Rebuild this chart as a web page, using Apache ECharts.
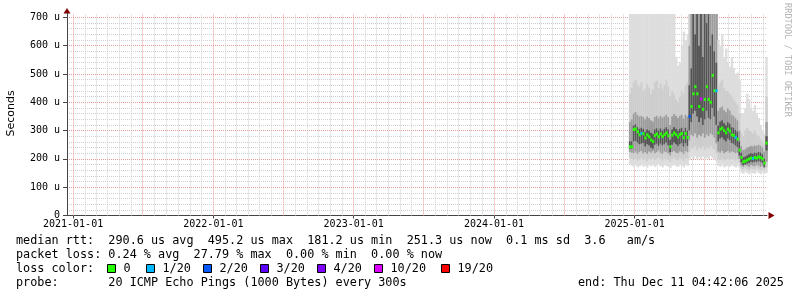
<!DOCTYPE html>
<html><head><meta charset="utf-8">
<script src="https://cdn.jsdelivr.net/npm/echarts@6/dist/echarts.min.js"></script>
<style>html,body{margin:0;padding:0;background:#fff}#c{width:797px;height:297px}</style>
</head><body><div id="c"></div>
<script>
// ---- data ----
const dates = ['2024-12-17','2024-12-22','2024-12-27','2025-01-01','2025-01-06','2025-01-11','2025-01-16','2025-01-21','2025-01-26','2025-01-31','2025-02-05','2025-02-10','2025-02-15','2025-02-20','2025-02-25','2025-03-02','2025-03-07','2025-03-12','2025-03-17','2025-03-22','2025-03-27','2025-04-01','2025-04-06','2025-04-11','2025-04-16','2025-04-21','2025-04-26','2025-05-01','2025-05-06','2025-05-11','2025-05-16','2025-05-21','2025-05-26','2025-05-31','2025-06-05','2025-06-10','2025-06-15','2025-06-20','2025-06-25','2025-06-30','2025-07-05','2025-07-10','2025-07-15','2025-07-20','2025-07-25','2025-07-30','2025-08-04','2025-08-09','2025-08-14','2025-08-19','2025-08-24','2025-08-29','2025-09-03','2025-09-08','2025-09-13','2025-09-18','2025-09-23','2025-09-28','2025-10-03','2025-10-08','2025-10-13','2025-10-18','2025-10-23','2025-10-28','2025-11-02','2025-11-07','2025-11-12','2025-11-17','2025-11-22','2025-11-27','2025-12-02','2025-12-07'];

// median RTT (microseconds)
const median = [243,243,304,306,296,285,290,289,274,285,278,267,261,283,288,278,288,279,286,292,282,243,284,292,286,278,286,290,275,290,276,
  350,385,430,455,430,385,412,375,410,455,410,400,495,441,441,
  292,305,309,300,292,305,298,285,283,276,270,231,
  205,190,192,196,200,203,201,205,203,207,205,200,185,
  256];
// lost pings out of 20
const loss = [0,0,0,0,0,0,1,0,0,0,0,0,0,0,0,0,0,0,0,0,0,0,0,0,0,0,0,0,0,0,0,
  2,0,0,0,0,0,10,0,0,0,0,0,0,0,1,
  0,0,0,0,0,0,0,0,0,1,0,0,
  0,0,0,0,0,0,1,0,0,0,0,0,0,
  0];
// smoke quantiles (microseconds)
const smokeMin = [182,176,172,178,170,175,180,172,176,170,178,174,180,172,176,182,174,170,178,175,172,168,176,180,174,172,178,176,170,180,176,
  195,205,200,210,198,206,200,208,196,204,200,210,202,198,190,
  176,172,178,170,174,176,172,178,174,170,176,170,
  152,148,155,150,146,154,150,148,156,150,146,152,148,
  150];
const q10 = [205,200,196,200,194,198,204,196,200,192,200,198,204,196,200,206,198,194,202,198,196,190,200,204,198,196,202,200,194,204,200,
  225,240,235,245,230,240,236,244,232,240,236,246,238,232,220,
  198,196,200,194,198,200,196,200,198,194,198,186,
  165,162,168,164,160,166,164,162,168,164,160,166,160,
  170];
const q25 = [225,222,220,226,218,224,228,220,224,218,226,222,228,220,224,230,222,218,226,224,220,212,224,228,222,220,226,224,218,228,224,
  265,285,280,290,275,285,280,290,275,286,280,290,285,275,255,
  226,222,228,220,224,228,222,226,224,220,222,200,
  176,172,178,176,172,178,176,174,180,176,172,176,168,
  190];
const q40 = [236,236,262,264,258,252,254,256,244,252,248,240,236,250,254,246,254,248,252,258,248,224,250,258,252,246,252,256,244,256,246,
  300,330,360,370,350,330,345,320,340,370,345,340,380,350,320,
  262,272,276,268,262,272,266,256,254,248,242,212,
  188,178,180,184,186,190,188,190,190,192,190,186,172,
  230];
const q60 = [262,262,318,322,312,306,310,306,296,304,300,292,288,304,308,300,308,300,306,312,304,268,304,312,306,300,306,310,298,310,300,
  460,520,712,640,712,600,712,560,712,680,712,600,640,580,540,
  318,332,336,326,318,330,324,312,310,302,296,262,
  222,206,208,212,216,220,218,222,220,224,222,216,200,
  280];
const q75 = [330,340,360,366,356,350,352,348,340,350,344,336,332,348,352,344,352,346,350,356,348,320,350,358,352,344,352,356,342,356,350,
  600,712,712,712,712,712,712,712,712,712,712,712,712,712,712,
  370,380,385,372,365,378,370,356,352,344,336,300,
  245,232,234,240,242,246,244,248,246,250,246,240,226,
  330];
const q90 = [430,450,470,480,462,455,470,440,448,465,452,430,445,470,476,450,466,448,460,478,455,420,440,430,410,400,420,440,430,460,470,
  712,712,712,712,712,712,712,712,712,712,712,712,712,712,712,
  460,470,480,450,440,440,430,420,410,400,390,360,
  290,280,300,310,300,296,290,300,285,280,270,260,250,
  420];
const smokeMax = [712,712,712,712,712,712,712,712,712,712,712,712,712,712,712,712,712,712,712,712,712,712,712,712,560,530,540,600,650,620,640,
  712,712,712,712,712,712,712,712,712,712,712,712,712,712,712,
  620,600,640,560,590,540,525,560,520,500,505,480,
  360,362,380,430,410,380,370,390,360,345,320,300,290,
  560];

const xTickLabels = ['2021-01-01','2022-01-01','2023-01-01','2024-01-01','2025-01-01'];
const yTickValues = [0,100,200,300,400,500,600,700];
const lossLevels = ['0','1/20','2/20','3/20','4/20','10/20','19/20'];
const lossColors = ['#26ff00','#00b8ff','#0059ff','#5e00ff','#7e00ff','#dd00ff','#ff0000'];
const statLines = [
  'median rtt:  290.6 us avg  495.2 us max  181.2 us min  251.3 us now  0.1 ms sd  3.6   am/s',
  'packet loss: 0.24 % avg  27.79 % max  0.00 % min  0.00 % now',
  'loss color:',
  'probe:       20 ICMP Echo Pings (1000 Bytes) every 300s'
];
const endText = 'end: Thu Dec 11 04:42:06 2025';

// ---- build ----
const T = s => Date.parse(s + 'T00:00:00Z');
const STEP = 5 * 86400000;
const X_MIN = Date.UTC(2020, 11, 16, 4, 42, 6);
const X_MAX = Date.UTC(2025, 11, 11, 4, 42, 6);
const Y_MAX = 712;

const smokeData = dates.map((d, i) => [T(d), smokeMin[i], q10[i], q25[i], q40[i], q60[i], q75[i], q90[i], smokeMax[i]]);
const medData = dates.map((d, i) => [T(d), median[i], loss[i]]);
const bandColors = ['#dddddd', '#cdcdcd', '#9c9c9c', '#555555'];

function lossColor(n) {
  if (n <= 0) return lossColors[0];
  if (n === 1) return lossColors[1];
  if (n === 2) return lossColors[2];
  if (n === 3) return lossColors[3];
  if (n < 10) return lossColors[4];
  if (n < 19) return lossColors[5];
  return lossColors[6];
}

// vertical grid positions (month starts)
const vMinor = [], vMajor = [];
for (let y = 2021; y <= 2025; y++) {
  for (let m = 0; m < 12; m++) {
    const t = Date.UTC(y, m, 1);
    if (t > X_MAX) continue;
    if (m === 0 || m === 6) vMajor.push({ xAxis: t }); else vMinor.push({ xAxis: t });
  }
}

const MONO = '"DejaVu Sans Mono", monospace';
const LEG_FONT = '11.8px ' + MONO;
const lineY = [241, 255, 269, 283];

const graphics = [];
statLines.forEach((s, i) => {
  graphics.push({ type: 'text', x: 16, y: lineY[i], silent: true,
    style: { text: s, font: LEG_FONT, fill: '#000', verticalAlign: 'middle', textVerticalAlign: 'middle' } });
});
graphics.push({ type: 'text', x: 578, y: lineY[3], silent: true,
  style: { text: endText, font: LEG_FONT, fill: '#000', verticalAlign: 'middle', textVerticalAlign: 'middle' } });
const boxX = [107.5, 146.5, 203.5, 260.5, 317.5, 374.5, 441.5];
lossLevels.forEach((lbl, i) => {
  graphics.push({ type: 'rect', silent: true, shape: { x: boxX[i], y: 264.5, width: 8, height: 8 },
    style: { fill: lossColors[i], stroke: '#000', lineWidth: 1 } });
  graphics.push({ type: 'text', x: boxX[i] + 16, y: lineY[2], silent: true,
    style: { text: lbl, font: LEG_FONT, fill: '#000', verticalAlign: 'middle', textVerticalAlign: 'middle' } });
});
graphics.push({ type: 'text', x: 11, y: 113.5, rotation: Math.PI / 2, silent: true,
  style: { text: 'Seconds', font: '11px "DejaVu Sans"', fill: '#000', align: 'center', verticalAlign: 'middle', textAlign: 'center', textVerticalAlign: 'middle' } });
graphics.push({ type: 'text', x: 787, y: 60, rotation: -Math.PI / 2, silent: true,
  style: { text: 'RRDTOOL / TOBI OETIKER', font: '8.6px ' + MONO, fill: '#b4b4b4', align: 'center', verticalAlign: 'middle', textAlign: 'center', textVerticalAlign: 'middle' } });
graphics.push({ type: 'polygon', silent: true, shape: { points: [[67, 8], [63.5, 13.5], [70.5, 13.5]] }, style: { fill: '#7f0000' } });
graphics.push({ type: 'polygon', silent: true, shape: { points: [[774.5, 215.5], [768.5, 212], [768.5, 219]] }, style: { fill: '#7f0000' } });
graphics.push({ type: 'line', silent: true, shape: { x1: 67.5, y1: 13, x2: 67.5, y2: 15 }, style: { stroke: '#444', lineWidth: 1 } });

function pad(n) { return (n < 10 ? '0' : '') + n; }
function fmtDate(v) { const d = new Date(v); return d.getUTCFullYear() + '-' + pad(d.getUTCMonth() + 1) + '-' + pad(d.getUTCDate()); }

function gridSeries(items, color) {
  return { type: 'line', data: [], z: 1, silent: true,
    markLine: { silent: true, symbol: ['none', 'none'], label: { show: false }, animation: false, z: 1,
      emphasis: { disabled: true }, lineStyle: { color: color, type: 'dotted', width: 1 }, data: items } };
}
function gridYAxis(interval, color) {
  return { type: 'value', min: 0, max: Y_MAX, interval: interval, position: 'left',
    axisLine: { show: false }, axisTick: { show: false }, axisLabel: { show: false },
    splitLine: { show: true, showMinLine: false, showMaxLine: false, lineStyle: { color: color, type: 'dotted', width: 1 } } };
}

const option = {
  animation: false,
  backgroundColor: '#ffffff',
  grid: { left: 67, top: 14, width: 700, bottom: 81.5, containLabel: false, outerBoundsMode: 'none' },
  xAxis: {
    type: 'value', min: X_MIN, max: X_MAX, scale: true,
    axisLine: { show: true, lineStyle: { color: '#444', width: 1 } },
    axisTick: { show: true, length: 3, customValues: xTickLabels.map(T), lineStyle: { color: '#444' } },
    axisLabel: { customValues: xTickLabels.map(T), formatter: v => fmtDate(v), fontFamily: MONO, fontSize: 10, color: '#000', margin: 4, hideOverlap: false, showMinLabel: true, showMaxLabel: true },
    splitLine: { show: false }
  },
  yAxis: [
    gridYAxis(20, '#cfcfcf'),
    gridYAxis(100, '#e89a9a'),
    {
      type: 'value', min: 0, max: Y_MAX, position: 'left',
      axisLine: { show: true, lineStyle: { color: '#444', width: 1 } },
      axisTick: { show: true, length: 4, customValues: yTickValues, lineStyle: { color: '#444' } },
      axisLabel: { customValues: yTickValues, showMinLabel: true, showMaxLabel: true,
        formatter: v => (v === 0 ? '0' : (v % 100 === 0 ? v + ' u' : '')),
        fontFamily: MONO, fontSize: 10, color: '#000', margin: 7 },
      splitLine: { show: false }
    }
  ],
  series: [
    gridSeries(vMinor, '#d2d2d2'),
    gridSeries(vMajor, '#e89a9a'),
    { type: 'custom', z: 2, silent: true, data: smokeData, yAxisIndex: 2,
      encode: { x: 0, y: [1, 2, 3, 4, 5, 6, 7, 8] },
      renderItem: function (params, api) {
        const t = api.value(0);
        const x0 = api.coord([t, 0])[0];
        const w = api.size([STEP, 0])[0];
        const children = [];
        for (let k = 0; k < 4; k++) {
          const yLo = api.coord([t, api.value(1 + k)])[1];
          const yHi = api.coord([t, api.value(8 - k)])[1];
          children.push({ type: 'rect', shape: { x: x0, y: yHi, width: w + 0.4, height: yLo - yHi }, style: { fill: bandColors[k] } });
        }
        return { type: 'group', children: children };
      } },
    { type: 'custom', z: 3, silent: true, data: medData, yAxisIndex: 2,
      encode: { x: 0, y: 1 },
      renderItem: function (params, api) {
        const t = api.value(0);
        const p = api.coord([t, api.value(1)]);
        const w = api.size([STEP, 0])[0];
        return { type: 'rect', shape: { x: p[0], y: p[1] - 1.5, width: w + 0.3, height: 3 }, style: { fill: lossColor(api.value(2)) } };
      } }
  ],
  graphic: graphics
};

const chart = echarts.init(document.getElementById('c'), null, { renderer: 'canvas' });
chart.setOption(option);
</script>
</body></html>
